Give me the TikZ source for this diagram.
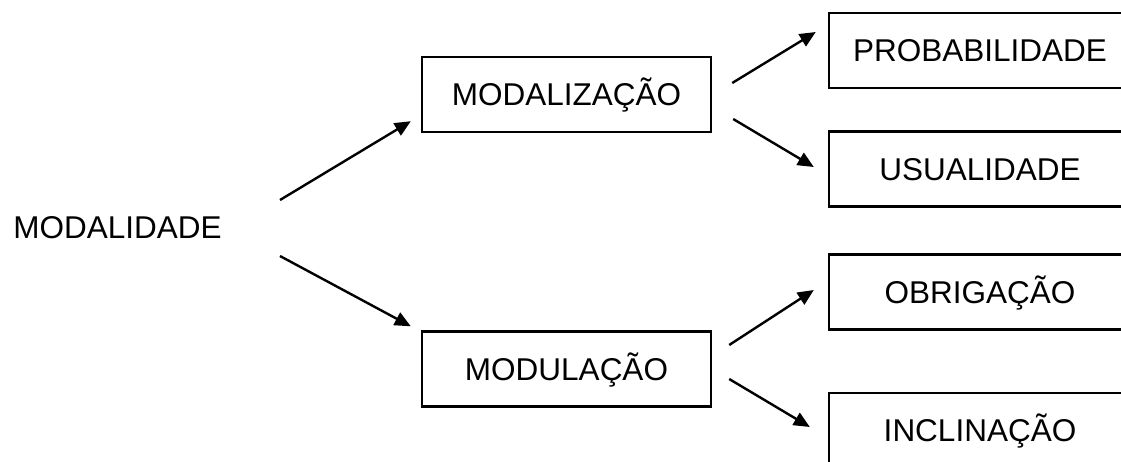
\documentclass[tikz,border=0pt]{standalone}
\usepackage{fontspec}
\setmainfont{Liberation Sans}
\usetikzlibrary{arrows.meta,calc}
\begin{document}
\begin{tikzpicture}[x=1pt,y=-1pt,
  lbl/.style={font=\fontsize{31.5}{36}\selectfont, inner sep=0pt, text height=22.5pt, text depth=0pt},
  box/.style={lbl, draw, line width=2.4pt, minimum height=75pt},
  midbox/.style={box, minimum width=289pt},
  rbox/.style={box, minimum width=302pt},
  arr/.style={line width=2.4pt, -{Triangle[length=16pt,width=14pt]}}]
\useasboundingbox (0,0) rectangle (1121,461);
\clip (0,0) rectangle (1121,461);
\node[lbl] (mdd) at (117.5,227) {MODALIDADE};
\node[midbox] (mzc) at (566.5,94.5) {MODALIZAÇÃO};
\node[midbox] (mdl) at (566.5,369) {MODULAÇÃO};
\node[rbox] (prob) at (980,50.5) {PROBABILIDADE};
\node[rbox] (usu) at (980,169) {USUALIDADE};
\node[rbox] (obr) at (980,292) {OBRIGAÇÃO};
\node[rbox] (inc) at (980,430.5) {INCLINAÇÃO};
\draw[arr] ($(mdd.center)+(162.5,-27)$) -- ($(mzc.south west)+(-10,-12)$);
\draw[arr] ($(mdd.center)+(162.5,29)$) -- ($(mdl.north west)+(-10,-4)$);
\draw[arr] ($(mzc.east)+(20,-11.5)$) -- ($(prob.west)+(-12,-18.5)$);
\draw[arr] ($(mzc.east)+(21,24.5)$) -- ($(usu.west)+(-14,-2)$);
\draw[arr] ($(mdl.east)+(17,-24)$) -- ($(obr.west)+(-14,-2)$);
\draw[arr] ($(mdl.east)+(17,10)$) -- ($(inc.west)+(-18,-3.5)$);
\end{tikzpicture}
\end{document}
